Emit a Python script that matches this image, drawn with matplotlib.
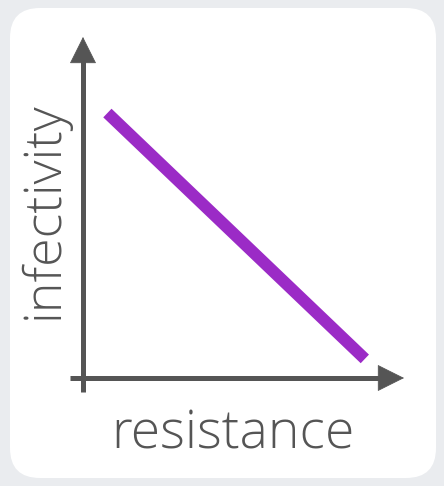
import matplotlib
matplotlib.use("Agg")
import matplotlib.pyplot as plt
from matplotlib.patches import FancyBboxPatch

resistance = [0.076, 0.878]
infectivity = [0.777, 0.056]
x_label = "resistance"
y_label = "infectivity"

W, H = 444, 486
fig = plt.figure(figsize=(W / 100, H / 100), dpi=100)
fig.patch.set_facecolor("#eaecef")

# background card
bg = fig.add_axes([0, 0, 1, 1])
bg.set_xlim(0, W)
bg.set_ylim(H, 0)
bg.axis("off")
card = FancyBboxPatch((10 + 30, 8 + 30), 426 - 60, 470 - 60,
                      boxstyle="round,pad=30", fc="white", ec="none")
bg.add_patch(card)

# inner axes
L, R, T, B = 83, 404, 37, 378
ax = fig.add_axes([L / W, 1 - B / H, (R - L) / W, (B - T) / H])
ax.set_xlim(0, 1)
ax.set_ylim(0, 1)
ax.axis("off")
ax.patch.set_alpha(0)

axc = "#555555"
ax.plot([-0.04, 0.95], [0, 0], color=axc, lw=3.6, solid_capstyle="butt", clip_on=False)
ax.plot([0, 0], [-0.041, 0.95], color=axc, lw=3.6, solid_capstyle="butt", clip_on=False)
ax.annotate("", xy=(1.0, 0), xytext=(0.9, 0),
            arrowprops=dict(arrowstyle="-|>,head_length=18,head_width=9", mutation_scale=1,
                            color=axc, lw=0.5, shrinkA=0, shrinkB=0), annotation_clip=False)
ax.annotate("", xy=(0, 1.0), xytext=(0, 0.9),
            arrowprops=dict(arrowstyle="-|>,head_length=18,head_width=9", mutation_scale=1,
                            color=axc, lw=0.5, shrinkA=0, shrinkB=0), annotation_clip=False)

ax.plot(resistance, infectivity, color="#9b2bc6", lw=8.6, solid_capstyle="butt", clip_on=False)

fam = ["Open Sans", "DejaVu Sans"]
bg.text(233, 448, x_label, ha="center", va="baseline", fontsize=38.5, color=axc,
        family=fam, fontweight="light")
bg.text(58, 210, y_label, ha="center", va="baseline", rotation=90, rotation_mode="anchor",
        fontsize=37.5, color=axc, family=fam, fontweight="light")

fig.savefig("out.png", dpi=100, facecolor=fig.get_facecolor())
